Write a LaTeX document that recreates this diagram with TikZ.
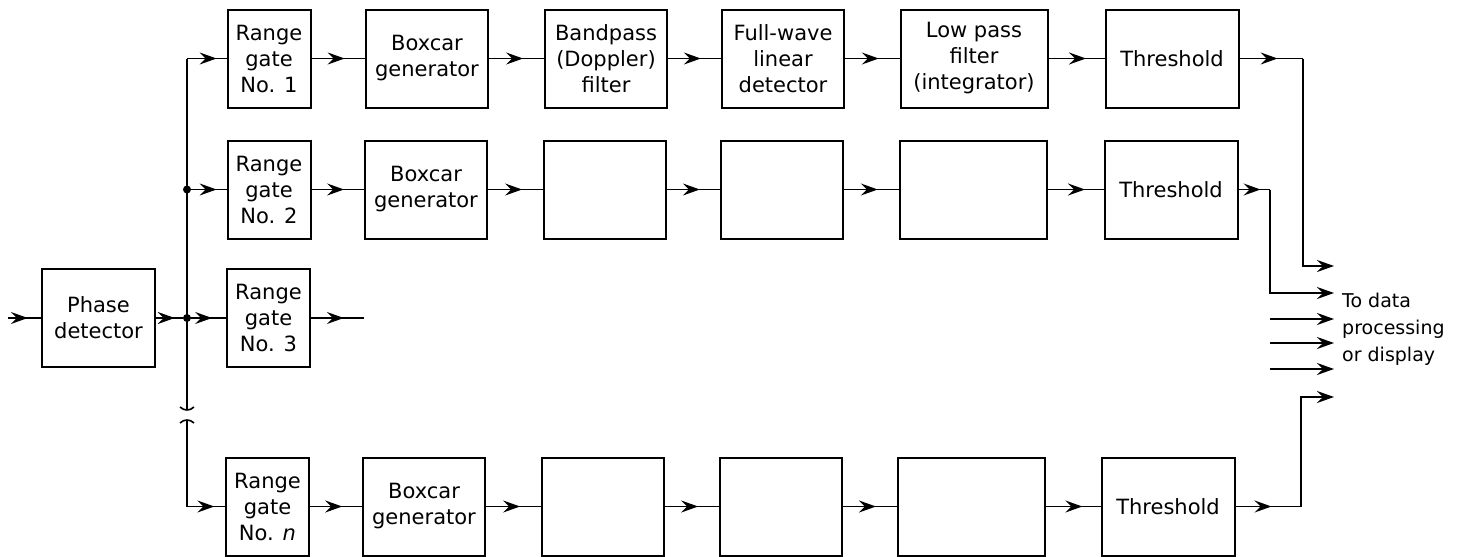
\documentclass[tikz,border=0pt]{standalone}
\usepackage{fontspec}
\setmainfont{DejaVu Sans}
\usetikzlibrary{arrows.meta,decorations.markings}
\begin{document}
\begin{tikzpicture}[x=1pt,y=-1pt,
  blk/.style={draw, line width=2pt, minimum height=98pt, inner sep=0pt, align=center,
    font=\fontsize{21}{26}\selectfont},
  narrow/.style={blk, minimum width=83pt},
  mid/.style={blk, minimum width=122pt},
  wide/.style={blk, minimum width=147pt},
  thr/.style={blk, minimum width=133pt},
  conn/.style={line width=1.6pt},
  midarrow/.style={conn, postaction={decorate},
    decoration={markings, mark=at position #1 with {\arrow{Stealth[length=17pt,width=12pt,inset=6pt]}}}},
  endarrow/.style={conn, -{Stealth[length=17pt,width=12pt,inset=6pt]}},
  dot/.style={circle, fill, inner sep=0pt, minimum size=8pt},
  lbl/.style={align=left, anchor=north west, inner sep=0pt,
    font=\fontsize{19}{27}\selectfont}
]
\useasboundingbox (0,0) rectangle (1460,557);

% Row 1
\node[narrow] (rg1) at (269,58.5) {Range\\gate\\No. 1};
\node[mid]    (bc1) at (427,58.5) {Boxcar\\generator};
\node[mid]    (bp1) at (606,58.5) {Bandpass\\(Doppler)\\filter};
\node[mid]    (fw1) at (783,58.5) {Full-wave\\linear\\detector};
\node[wide]   (lp1) at (974,58.5) {Low pass\\filter\\(integrator)};
\node[thr]    (th1) at (1172,58.5) {Threshold};

% Row 2
\node[narrow] (rg2) at (269,189.5) {Range\\gate\\No. 2};
\node[mid]    (bc2) at (426,189.5) {Boxcar\\generator};
\node[mid]    (c32) at (605,189.5) {};
\node[mid]    (c42) at (782,189.5) {};
\node[wide]   (c52) at (973,189.5) {};
\node[thr]    (th2) at (1171,189.5) {Threshold};

% Row 3
\node[blk, minimum width=113pt] (pd) at (98.5,318) {Phase\\detector};
\node[narrow] (rg3) at (268.5,318) {Range\\gate\\No. 3};

% Row n
\node[narrow] (rgn) at (267.5,506.5) {Range\\gate\\No. \textit{n}};
\node[mid]    (bcn) at (424,506.5) {Boxcar\\generator};
\node[mid]    (c3n) at (603,506.5) {};
\node[mid]    (c4n) at (780.5,506.5) {};
\node[wide]   (c5n) at (971,506.5) {};
\node[thr]    (thn) at (1168,506.5) {Threshold};

% bus coordinates
\coordinate (bus1) at (187,58.5);
\node[dot] (d2) at (187,189.5) {};
\node[dot] (d3) at (187,318) {};
\coordinate (brka) at (187,410);
\coordinate (brkb) at (187,420);
\coordinate (busn) at (187,506.5);
\coordinate (in) at (8,318);
\coordinate (out3) at (364,318);

% bus
\draw[conn] (bus1) -- (brka);
\draw[conn] (brkb) -- (busn);
\draw[conn] (180,407) .. controls (184,411) and (190,411) .. (194,407);
\draw[conn] (180,423) .. controls (184,419) and (190,419) .. (194,423);

\draw[midarrow=0.6] (in) -- (pd.west);
\draw[midarrow=0.7] (pd.east) -- (d3);
\draw[midarrow=0.6] (d3) -- (rg3.west);
\draw[midarrow=0.62] (rg3.east) -- (out3);
\draw[midarrow=0.75] (bus1) -- (rg1.west);
\draw[midarrow=0.72] (d2) -- (rg2.west);
\draw[midarrow=0.72] (busn) -- (rgn.west);

% row connectors
\draw[midarrow=0.62] (rg1.east) -- (bc1.west);
\draw[midarrow=0.62] (bc1.east) -- (bp1.west);
\draw[midarrow=0.62] (bp1.east) -- (fw1.west);
\draw[midarrow=0.62] (fw1.east) -- (lp1.west);
\draw[midarrow=0.67] (lp1.east) -- (th1.west);

\draw[midarrow=0.62] (rg2.east) -- (bc2.west);
\draw[midarrow=0.62] (bc2.east) -- (c32.west);
\draw[midarrow=0.62] (c32.east) -- (c42.west);
\draw[midarrow=0.62] (c42.east) -- (c52.west);
\draw[midarrow=0.67] (c52.east) -- (th2.west);

\draw[midarrow=0.62] (rgn.east) -- (bcn.west);
\draw[midarrow=0.62] (bcn.east) -- (c3n.west);
\draw[midarrow=0.62] (c3n.east) -- (c4n.west);
\draw[midarrow=0.62] (c4n.east) -- (c5n.west);
\draw[midarrow=0.67] (c5n.east) -- (thn.west);

% outputs
\coordinate (k1) at (1303,58.5);
\coordinate (e1) at (1334,266);
\coordinate (k2) at (1270,189.5);
\coordinate (e2) at (1334,293);
\coordinate (kn) at (1301,506.5);
\coordinate (en) at (1334,397);
\draw[midarrow=0.6] (th1.east) -- (k1);
\draw[endarrow] (k1) |- (e1);
\draw[midarrow=0.7] (th2.east) -- (k2);
\draw[endarrow] (k2) |- (e2);
\draw[midarrow=0.55] (thn.east) -- (kn);
\draw[endarrow] (kn) |- (en);

\coordinate (f1s) at (1270,319);
\coordinate (f1e) at (1334,319);
\coordinate (f2s) at (1270,343);
\coordinate (f2e) at (1334,343);
\coordinate (f3s) at (1270,369);
\coordinate (f3e) at (1334,369);
\draw[endarrow] (f1s) -- (f1e);
\draw[endarrow] (f2s) -- (f2e);
\draw[endarrow] (f3s) -- (f3e);

\node[lbl] (dest) at (1342,293) {To data\\processing\\or display};
\end{tikzpicture}
\end{document}
